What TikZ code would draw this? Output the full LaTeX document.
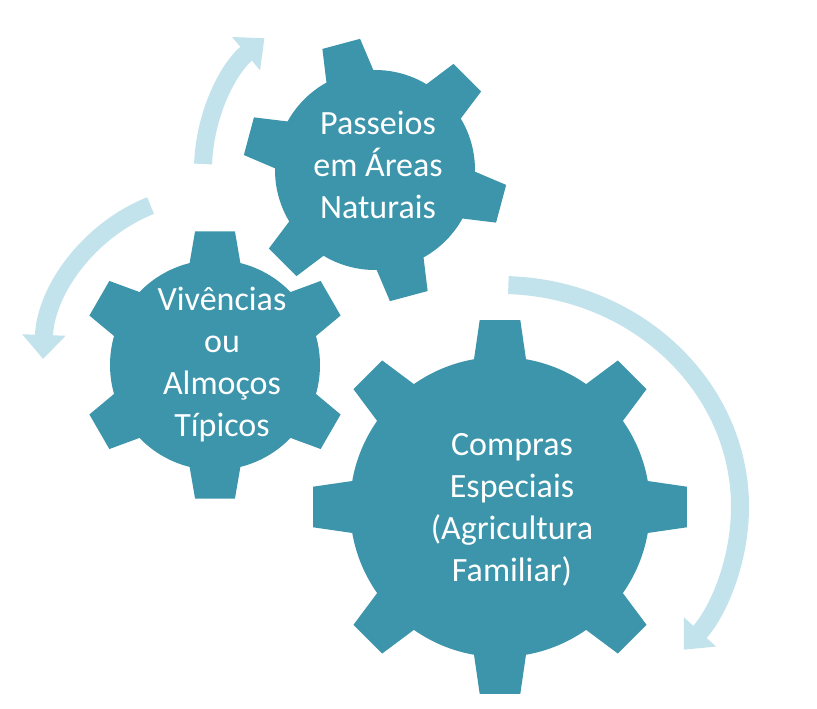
\documentclass[tikz,border=0pt]{standalone}
\usepackage{fontspec}
\setmainfont{Carlito}
\usetikzlibrary{arrows.meta}
\definecolor{gearc}{HTML}{3C95AB}
\definecolor{arrc}{HTML}{C3E3EC}
\newcommand\mygear[8]{% cx cy rbody rout n offset basehalf tiphalf
  \fill[gearc] (#1,#2) circle (#3);
  \foreach \i in {1,...,#5}{
    \pgfmathsetmacro\a{#6+360/#5*\i}
    \fill[gearc,shift={(#1,#2)}] (\a-#7:#3-4) -- (\a-#8:#4) -- (\a+#8:#4) -- (\a+#7:#3-4) -- cycle;
  }}
\tikzset{lbl/.style={text=white,align=center,font=\fontsize{34}{42}\selectfont},
  arr/.style={draw=arrc,line width=18pt,-{Triangle[width=42pt,length=24pt]}}}
\begin{document}
\begin{tikzpicture}[x=1pt,y=1pt]
\useasboundingbox[fill=white] (0,0) rectangle (817,709);
% arrows
\draw[arr] ([shift={(375,539)}]178:172) arc (178:130:172);
\draw[arr] ([shift={(215,344)}]112:172) arc (112:178:172);
\draw[arr] ([shift={(500,202)}]88:240 and 222) arc (88:-40:240 and 222);
% gears
\mygear{375}{539}{100}{132}{6}{105}{15}{8.5}
\mygear{215}{344}{105}{135}{6}{30}{15}{8.5}
\mygear{500}{202}{150}{188}{8}{0}{10.5}{6.2}
\node[lbl] (p) at (378,544) {Passeios\\em Áreas\\Naturais};
\node[lbl] (v) at (222,344) {Vivências\\ou\\Almoços\\Típicos};
\node[lbl] (c) at (512,199) {Compras\\Especiais\\(Agricultura\\Familiar)};
\end{tikzpicture}
\end{document}
